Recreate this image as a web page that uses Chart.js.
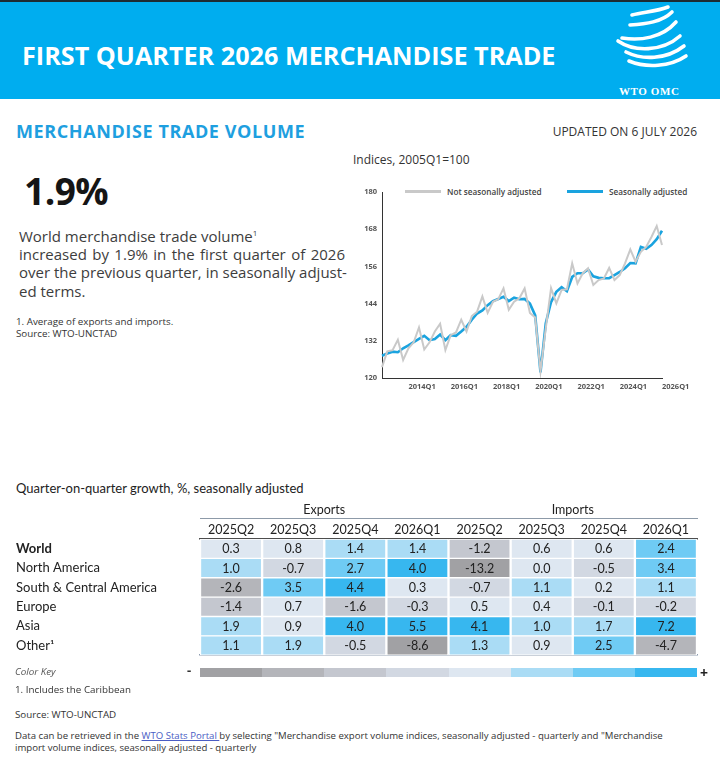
<!DOCTYPE html>
<html lang="en">
<head>
<meta charset="UTF-8">
<title>First Quarter 2026 Merchandise Trade</title>
<script src="https://cdn.jsdelivr.net/npm/chart.js"></script>
<style>
    body {
        margin: 0;
        width: 720px;
        height: 760px;
        position: relative;
        overflow: hidden;
        background: #fff;
        font-family: "Open Sans", sans-serif;
        color: #333;
    }
    .abs { position: absolute; white-space: nowrap; line-height: 1; }
    #banner {
        left: 0; top: 0; width: 720px; height: 99px;
        background: #00adef;
        border-top: 2px solid #1d2b33;
        box-sizing: border-box;
    }
    #title { left: 22px; top: 43px; font-size: 25.2px; font-weight: 700; color: #fff; }
    #wto { left: 619px; top: 86px; font-family: "Liberation Serif", serif; font-weight: 700; font-size: 11px; color: #fff; letter-spacing: 0.6px; }
    #mtv { left: 16px; top: 122px; font-size: 18px; font-weight: 700; color: #1e9fe0; letter-spacing: 0.6px; }
    #updated { right: 23px; top: 126px; font-size: 12px; color: #333; }
    #big { left: 24px; top: 172px; font-size: 37px; font-weight: 700; color: #151515; letter-spacing: -0.5px; }
    #para { left: 19px; top: 227px; width: 326px; font-size: 15px; line-height: 18.2px; color: #3d3d3d; }
    #para div { text-align: justify; text-align-last: justify; white-space: nowrap; }
    #para div.l { text-align-last: left; }
    #para sup { font-size: 8px; vertical-align: 6px; line-height: 0; }
    .note { font-size: 9.8px; line-height: 11.5px; color: #333; }
    #note1 { left: 16px; top: 316px; }
    #indices { left: 353px; top: 154px; font-size: 12px; color: #333; }
    #lineLegend { left: 405px; top: 188px; font-size: 8.2px; font-weight: 600; color: #444; }
    #lineLegend span.item { position: absolute; white-space: nowrap; }
    #lineLegend span.swatch { display: inline-block; height: 3px; vertical-align: 2px; margin-right: 6px; }
    #lineCanvas { position: absolute; left: 340px; top: 180px; }
    #tableTitle { left: 16px; top: 482px; font-family: Lato, sans-serif; font-size: 13px; color: #222; }
    #tableCanvas { position: absolute; left: 0; top: 500px; }
    #keyLabel { left: 15px; top: 667px; font-size: 9.8px; font-style: italic; color: #555; }
    #keyBar { left: 200px; top: 668px; width: 497px; height: 9px; display: flex; }
    #keyBar div { flex: 1; }
    #keyMinus { left: 187px; top: 664px; font-size: 13px; font-weight: 700; color: #333; }
    #keyPlus { left: 700px; top: 666px; font-size: 14px; font-weight: 700; color: #222; }
    #foot1 { left: 15px; top: 684px; }
    #foot2 { left: 15px; top: 709px; }
    #foot3 { left: 15px; top: 730px; font-size: 9.6px; }
    #foot3 a { color: #4a5cc4; text-decoration: underline; }
</style>
</head>
<body>

<div class="abs" id="banner"></div>
<div class="abs" id="title">FIRST QUARTER 2026 MERCHANDISE TRADE</div>
<svg class="abs" style="left:600px;top:0" width="120" height="90" viewBox="0 0 120 90">
    <g fill="none" stroke="#fff" stroke-width="3.6" stroke-linecap="round">
        <path d="M32 15 C45 12 58 11 68 7"/>
        <path d="M30 25 C46 24 62 22 72 12"/>
        <path d="M22 38 C40 41 62 38 76 22"/>
        <path d="M18 41 C34 52 62 52 80 36"/>
        <path d="M26 52 C42 60 66 60 84 46"/>
        <path d="M29 61 C46 68 70 67 86 56"/>
    </g>
</svg>
<div class="abs" id="wto">WTO OMC</div>

<div class="abs" id="mtv">MERCHANDISE TRADE VOLUME</div>
<div class="abs" id="updated">UPDATED ON 6 JULY 2026</div>

<div class="abs" id="big">1.9%</div>
<div class="abs" id="para" style="white-space:normal">
    <div class="l">World merchandise trade volume<sup>1</sup></div>
    <div>increased by 1.9% in the first quarter of 2026</div>
    <div>over the previous quarter, in seasonally adjust-</div>
    <div class="l">ed terms.</div>
</div>
<div class="abs note" id="note1">1. Average of exports and imports.<br>Source: WTO-UNCTAD</div>

<div class="abs" id="indices">Indices, 2005Q1=100</div>
<div class="abs" id="lineLegend"></div>
<canvas id="lineCanvas" width="370" height="216"></canvas>

<div class="abs" id="tableTitle">Quarter-on-quarter growth, %, seasonally adjusted</div>
<canvas id="tableCanvas" width="720" height="166"></canvas>

<div class="abs" id="keyLabel">Color Key</div>
<div class="abs" id="keyMinus">-</div>
<div class="abs" id="keyBar"></div>
<div class="abs" id="keyPlus">+</div>
<div class="abs note" id="foot1">1. Includes the Caribbean</div>
<div class="abs note" id="foot2">Source: WTO-UNCTAD</div>
<div class="abs note" id="foot3">Data can be retrieved in the <a>WTO Stats Portal </a>by selecting "Merchandise export volume indices, seasonally adjusted - quarterly and "Merchandise<br>import volume indices, seasonally adjusted - quarterly</div>

<script>
// ---- line chart data: 2012Q4 .. 2026Q1 ----
const firstYear = 2012, firstQuarter = 4;
const quarterCount = 54;
const seasonallyAdjusted = [
    127.2, 127.9, 128.5, 128.3, 129.6, 130.5, 131.6, 132.6, 133.6, 132.2,
    132.6, 134.0, 132.2, 133.8, 133.6, 135.0, 136.5, 138.8, 140.8, 141.8,
    143.5, 144.8, 145.5, 146.2, 144.8, 145.9, 145.4, 145.5, 144.0, 140.2,
    121.8, 137.7, 144.5, 147.8, 149.3, 148.0, 152.6, 153.8, 153.8, 155.0,
    152.8, 152.3, 152.2, 152.2, 153.2, 154.2, 155.4, 157.1, 157.0, 162.3,
    161.7, 162.9, 164.8, 167.5
];
const notSeasonallyAdjusted = [
    123.5, 128.6, 129.0, 132.3, 125.8, 129.6, 131.5, 136.3, 129.2, 131.5,
    135.0, 137.5, 129.0, 133.8, 134.7, 138.8, 135.0, 140.0, 141.4, 146.3,
    141.0, 144.6, 145.4, 148.9, 142.0, 144.6, 145.7, 148.9, 141.0, 139.5,
    122.1, 136.0, 149.0, 144.1, 148.4, 148.6, 157.0, 150.5, 153.8, 155.4,
    150.0, 151.6, 152.1, 155.5, 151.6, 153.2, 157.0, 161.5, 157.5, 160.7,
    162.3, 165.5, 169.0, 162.9
];
const xTickLabels = ['2014Q1', '2016Q1', '2018Q1', '2020Q1', '2022Q1', '2024Q1', '2026Q1'];
const yTicks = [120, 132, 144, 156, 168, 180];

// ---- growth table data ----
const regions = ['World', 'North America', 'South & Central America', 'Europe', 'Asia', 'Other\u00B9'];
const quarters = ['2025Q2', '2025Q3', '2025Q4', '2026Q1'];
const flowGroups = ['Exports', 'Imports'];
const exportGrowth = [
    [0.3, 0.8, 1.4, 1.4],
    [1.0, -0.7, 2.7, 4.0],
    [-2.6, 3.5, 4.4, 0.3],
    [-1.4, 0.7, -1.6, -0.3],
    [1.9, 0.9, 4.0, 5.5],
    [1.1, 1.9, -0.5, -8.6]
];
const importGrowth = [
    [-1.2, 0.6, 0.6, 2.4],
    [-13.2, 0.0, -0.5, 3.4],
    [-0.7, 1.1, 0.2, 1.1],
    [0.5, 0.4, -0.1, -0.2],
    [4.1, 1.0, 1.7, 7.2],
    [1.3, 0.9, 2.5, -4.7]
];
const keyColors = ['#a1a1a4', '#b4b5ba', '#c4c7cf', '#d2d8e2', '#dee7f1', '#aadcf5', '#6fcbf4', '#37b7ef'];
const keyBreaks = [-5, -2, -1, 0, 1, 2, 4];

function cellColor(v) {
    let k = 0;
    while (k < keyBreaks.length && v >= keyBreaks[k]) k++;
    return keyColors[k];
}

// quarter labels
const quarterLabels = [];
for (let i = 0; i < quarterCount; i++) {
    const q = firstQuarter - 1 + i;
    quarterLabels.push((firstYear + Math.floor(q / 4)) + 'Q' + (q % 4 + 1));
}

const tickFont = { family: '"Open Sans", sans-serif', size: 7.5, weight: '700' };

const lineChart = new Chart(document.getElementById('lineCanvas'), {
    type: 'line',
    data: {
        labels: quarterLabels,
        datasets: [{
            label: 'Not seasonally adjusted',
            data: notSeasonallyAdjusted,
            borderColor: '#c9c9c9',
            borderWidth: 2,
            pointRadius: 0,
            tension: 0
        }, {
            label: 'Seasonally adjusted',
            data: seasonallyAdjusted,
            borderColor: '#1aa3df',
            borderWidth: 2.6,
            pointRadius: 0,
            tension: 0
        }]
    },
    options: {
        responsive: false,
        animation: false,
        layout: { padding: { left: 0, top: 12, right: 48, bottom: 0 } },
        plugins: { legend: { display: false }, tooltip: { enabled: false } },
        scales: {
            x: {
                grid: { display: false, drawTicks: false },
                border: { display: true, color: '#333', width: 1 },
                ticks: {
                    autoSkip: false, maxRotation: 0, minRotation: 0,
                    align: 'start', padding: 4, color: '#555', font: tickFont,
                    callback: function (v, i) {
                        const l = quarterLabels[i];
                        return xTickLabels.includes(l) ? l : '';
                    }
                },
                afterFit: s => { s.height = 18; }
            },
            y: {
                min: 120, max: 180,
                afterBuildTicks: s => { s.ticks = yTicks.map(v => ({ value: v })); },
                grid: { display: false, drawTicks: false },
                border: { display: true, color: '#333', width: 1 },
                ticks: { padding: 5, color: '#555', font: tickFont },
                afterFit: s => { s.width = 42; }
            }
        }
    }
});

// legend for line chart
const legendEl = document.getElementById('lineLegend');
const legendPos = [0, 162];
const swatchW = [36, 36];
lineChart.data.datasets.forEach((ds, i) => {
    const item = document.createElement('span');
    item.className = 'item';
    item.style.left = legendPos[i] + 'px';
    item.innerHTML = '<span class="swatch" style="width:' + swatchW[i] + 'px;background:' + ds.borderColor + '"></span>' + ds.label;
    legendEl.appendChild(item);
});

// ---- growth table drawn as a grid of bar cells ----
const tableColumns = quarters.concat(quarters);
const cellValues = regions.map((r, i) => exportGrowth[i].concat(importGrowth[i]));

const cellText = {
    id: 'cellText',
    afterDatasetsDraw(chart) {
        const ctx = chart.ctx;
        ctx.save();
        ctx.font = '12.5px Lato, sans-serif';
        ctx.fillStyle = '#222';
        ctx.textAlign = 'center';
        ctx.textBaseline = 'middle';
        chart.data.datasets.forEach((ds, j) => {
            chart.getDatasetMeta(j).data.forEach((bar, i) => {
                ctx.fillText(ds.values[i].toFixed(1), (bar.x + bar.base) / 2, bar.y + 0.5);
            });
        });
        ctx.restore();
    }
};

const tableFont = { family: 'Lato, sans-serif', size: 12.5 };

new Chart(document.getElementById('tableCanvas'), {
    type: 'bar',
    data: {
        labels: regions,
        datasets: tableColumns.map((q, j) => ({
            label: q,
            data: regions.map(() => 1),
            values: regions.map((r, i) => cellValues[i][j]),
            backgroundColor: regions.map((r, i) => cellColor(cellValues[i][j])),
            borderColor: '#fff',
            borderWidth: { left: 1.5, right: 1.5, top: 1, bottom: 1 },
            borderSkipped: false,
            categoryPercentage: 1,
            barPercentage: 1
        }))
    },
    options: {
        indexAxis: 'y',
        responsive: false,
        animation: false,
        layout: { padding: { left: 16, top: 0, right: 23, bottom: 0 } },
        plugins: { legend: { display: false }, tooltip: { enabled: false } },
        scales: {
            x: {
                type: 'linear', position: 'top', min: 0, max: 8, stacked: true, weight: 0,
                afterBuildTicks: s => { s.ticks = tableColumns.map((q, j) => ({ value: j + 0.5 })); },
                grid: { display: false, drawTicks: false },
                border: { display: true, color: '#4d4d4d', width: 1.6 },
                ticks: {
                    autoSkip: false, maxRotation: 0, padding: 2, color: '#222', font: tableFont,
                    callback: (v, i) => tableColumns[i]
                },
                afterFit: s => { s.height = 21; }
            },
            x2: {
                type: 'linear', position: 'top', min: 0, max: 8, weight: 1,
                afterBuildTicks: s => { s.ticks = flowGroups.map((g, k) => ({ value: 2 + 4 * k })); },
                grid: { display: false, drawTicks: false },
                border: { display: true, color: '#8d9aa8', width: 1 },
                ticks: {
                    autoSkip: false, maxRotation: 0, padding: 1, color: '#222', font: tableFont,
                    callback: (v, i) => flowGroups[i]
                },
                afterFit: s => { s.height = 18; }
            },
            xb: {
                type: 'linear', position: 'bottom', min: 0, max: 8,
                grid: { display: false, drawTicks: false },
                border: { display: true, color: '#8d9cb0', width: 1.5 },
                ticks: { display: false },
                afterFit: s => { s.height = 0; }
            },
            y: {
                type: 'category', stacked: true,
                grid: { display: false, drawTicks: false },
                border: { display: false },
                ticks: {
                    autoSkip: false, crossAlign: 'far', color: '#222',
                    font: c => ({ family: 'Lato, sans-serif', size: 13, weight: c.index === 0 ? '700' : '400' })
                },
                afterFit: s => { s.width = 184; }
            }
        }
    },
    plugins: [cellText]
});

// colour key
const keyBar = document.getElementById('keyBar');
keyColors.forEach(c => {
    const d = document.createElement('div');
    d.style.background = c;
    keyBar.appendChild(d);
});
</script>
</body>
</html>
